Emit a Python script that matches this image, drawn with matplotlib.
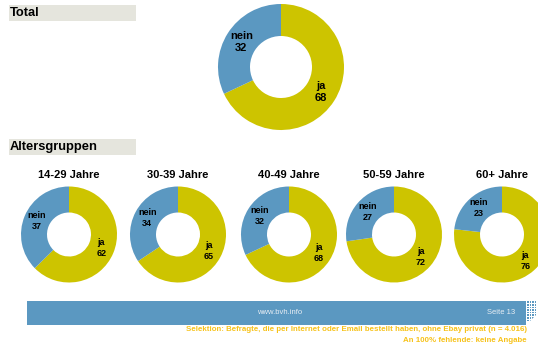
import matplotlib.pyplot as plt
from matplotlib.patches import Rectangle, Polygon
import numpy as np

plt.rcParams['font.family'] = ['Liberation Sans', 'DejaVu Sans']

BLUE = '#5b98c1'
YELLOW = '#cdc400'
HEADER = '#e5e5dd'
ORANGE = '#f7c21a'

# data
total_ja = 68
total_nein = 32
groups = ['14-29 Jahre', '30-39 Jahre', '40-49 Jahre', '50-59 Jahre', '60+ Jahre']
ja_values = [62, 65, 68, 72, 76]
nein_values = [37, 34, 32, 27, 23]

W, H = 538, 348
fig = plt.figure(figsize=(W / 100, H / 100), dpi=100)
ax = fig.add_axes([0, 0, 1, 1])


def donut(ax, ja, nein, cx, cy, r, inner, fs):
    wedges, _ = ax.pie([ja, nein], colors=[YELLOW, BLUE], startangle=90,
                       counterclock=False, center=(cx, cy), radius=r,
                       wedgeprops=dict(width=r - inner, linewidth=0))
    rm = (r + inner) / 2
    for w, name, val in zip(wedges, ['ja', 'nein'], [ja, nein]):
        a = np.deg2rad((w.theta1 + w.theta2) / 2)
        ax.text(cx + rm * np.cos(a), cy + rm * np.sin(a), f"{name}\n{val}",
                ha='center', va='center', fontsize=fs, fontweight='bold',
                linespacing=1.3)


# header bars
for y_top, label in [(5, 'Total'), (139, 'Altersgruppen')]:
    ax.add_patch(Rectangle((9, H - y_top - 16), 127, 16, color=HEADER, lw=0))
    ax.text(10, H - y_top - 8, label, ha='left', va='center',
            fontsize=9.3, fontweight='bold')

# total donut
donut(ax, total_ja, total_nein, 281, H - 67, 63, 31, 8)

# age groups
centers = [69, 178, 289, 394, 502]
for cx, g, ja, nein in zip(centers, groups, ja_values, nein_values):
    ax.text(cx, H - 175, g, ha='center', va='center', fontsize=8,
            fontweight='bold')
    donut(ax, ja, nein, cx, H - 234.5, 48, 22, 6.5)

# footer
ax.add_patch(Rectangle((27, H - 325), 499, 24, color=BLUE, lw=0))
for i in range(4):
    for j in range(8):
        ax.add_patch(Rectangle((527 + i * 2.6, H - 303 - j * 2.6), 1.6, 1.6,
                               color=BLUE, lw=0))
ax.add_patch(Polygon([(526, H - 325), (536, H - 325), (536, H - 315)],
                     closed=True, color='white', lw=0))
ax.text(280, H - 313, 'www.bvh.info', ha='center', va='center',
        fontsize=5.5, color='#e8eef4')
ax.text(501, H - 313, 'Seite 13', ha='center', va='center',
        fontsize=5.5, color='#e8eef4')
ax.text(527, H - 329.5,
        'Selektion: Befragte, die per Internet oder Email bestellt haben, ohne Ebay privat (n = 4.016)',
        ha='right', va='center', fontsize=5.7, fontweight='bold', color=ORANGE)
ax.text(527, H - 340, 'An 100% fehlende: keine Angabe', ha='right',
        va='center', fontsize=5.7, fontweight='bold', color=ORANGE)

ax.set_xlim(0, W)
ax.set_ylim(0, H)
ax.set_aspect('auto')
ax.axis('off')

fig.savefig('out.png', dpi=100)
